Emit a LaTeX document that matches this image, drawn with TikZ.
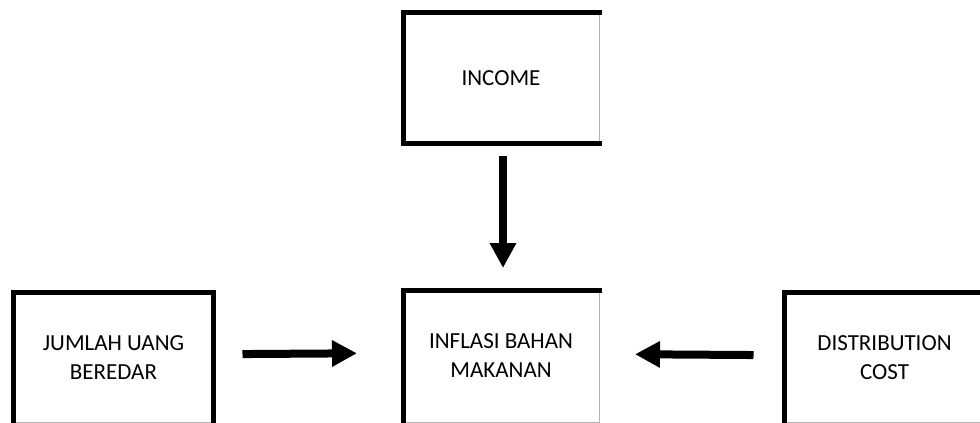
\documentclass[tikz,border=0pt]{standalone}
\usepackage{fontspec}
\setmainfont{Carlito}
\usetikzlibrary{arrows.meta}

\begin{document}
\begin{tikzpicture}[x=1pt,y=-1pt,
  box/.style={draw=gray!60, line width=0.8pt, inner sep=0pt, outer sep=0pt,
    align=center, font=\fontsize{23}{29}\selectfont},
  rim/.style={line width=5pt, line join=miter, line cap=rect},
  flow/.style={line width=8pt, -{Triangle[width=25pt,length=25pt]}}]
\useasboundingbox (0,0) rectangle (980,423);
\clip (0,0) rectangle (980,423);

%boxes
\node[box, minimum width=196pt, minimum height=131pt] (inc) at (501,78) {INCOME};
\node[box, minimum width=196pt, minimum height=132pt] (inf) at (501,356) {INFLASI BAHAN\\MAKANAN};
\node[box, minimum width=200pt, minimum height=129.5pt] (jum) at (113.5,357.25) {JUMLAH UANG\\BEREDAR};
\node[box, minimum width=200pt, minimum height=129.5pt] (dis) at (884.5,357.25) {DISTRIBUTION\\COST};

%thick borders
\draw[rim] (inc.south east) -| (inc.north west) -- (inc.north east);
\draw[rim] (inf.south west) |- (inf.north east);
\draw[rim] (jum.south west) |- (jum.north east) -- (jum.south east);
\draw[rim] (dis.south west) |- (dis.north east);

%arrows
\path[draw,flow,shorten <=12pt,shorten >=22pt] ([xshift=2pt]inc.south) -- ([xshift=2pt]inf.north);
\path[draw,flow,shorten <=29pt,shorten >=46pt] ([yshift=3pt]jum.east) -- ([yshift=3pt]inf.west);
\path[draw,flow,shorten <=31pt,shorten >=36pt] ([yshift=2pt]dis.west) -- ([yshift=2pt]inf.east);
\end{tikzpicture}
\end{document}
